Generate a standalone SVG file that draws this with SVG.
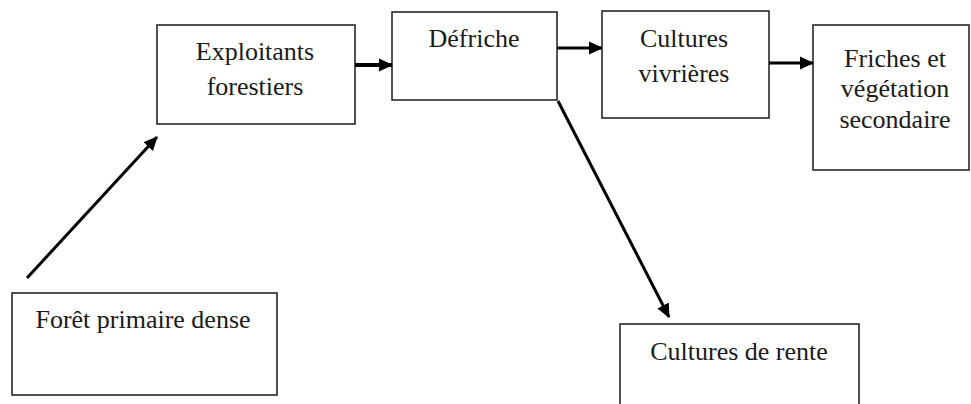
<svg xmlns="http://www.w3.org/2000/svg" width="971" height="404" viewBox="0 0 971 404">
<style>
.box{fill:#fff;stroke:#1a1a1a;stroke-width:1.5}
.t{font-family:"Liberation Serif","Times New Roman",serif;font-size:26px;fill:#1a1a1a;text-anchor:middle}
.c{stroke:#000;stroke-width:3;fill:none}
</style>
<defs>
<marker id="ah" markerUnits="userSpaceOnUse" markerWidth="14" markerHeight="14" viewBox="0 0 14 14" refX="13" refY="7" orient="auto">
<path d="M0,0.5 L14,7 L0,13.5 Z" fill="#000"/>
</marker>
</defs>
<rect width="971" height="404" fill="#fff"/>
<g id="n-exploitants">
<rect class="box" x="157" y="25" width="198" height="99"/>
<text class="t" x="255" y="60">Exploitants</text>
<text class="t" x="255" y="95">forestiers</text>
</g>
<g id="n-defriche">
<rect class="box" x="392" y="12" width="165" height="88"/>
<text class="t" x="474" y="47">Défriche</text>
</g>
<g id="n-vivrieres">
<rect class="box" x="602" y="11" width="167" height="107"/>
<text class="t" x="684" y="47">Cultures</text>
<text class="t" x="684" y="82">vivrières</text>
</g>
<g id="n-friches">
<rect class="box" x="813" y="25" width="156" height="145"/>
<text class="t" x="895" y="67">Friches et</text>
<text class="t" x="895" y="97">végétation</text>
<text class="t" x="895" y="128">secondaire</text>
</g>
<g id="n-foret">
<rect class="box" x="12" y="293" width="265" height="102"/>
<text class="t" x="143" y="328">Forêt primaire dense</text>
</g>
<g id="n-rente">
<rect class="box" x="620" y="324" width="239" height="90"/>
<text class="t" x="739" y="360">Cultures de rente</text>
</g>
<g id="connectors">
<line class="c" x1="27" y1="278" x2="157" y2="137" marker-end="url(#ah)"/>
<line class="c" x1="355" y1="65" x2="392" y2="65" style="stroke-width:4" marker-end="url(#ah)"/>
<line class="c" x1="557" y1="48" x2="602" y2="48" marker-end="url(#ah)"/>
<line class="c" x1="769" y1="63" x2="813" y2="63" marker-end="url(#ah)"/>
<line class="c" x1="558" y1="101" x2="669" y2="317" marker-end="url(#ah)"/>
</g>
</svg>
